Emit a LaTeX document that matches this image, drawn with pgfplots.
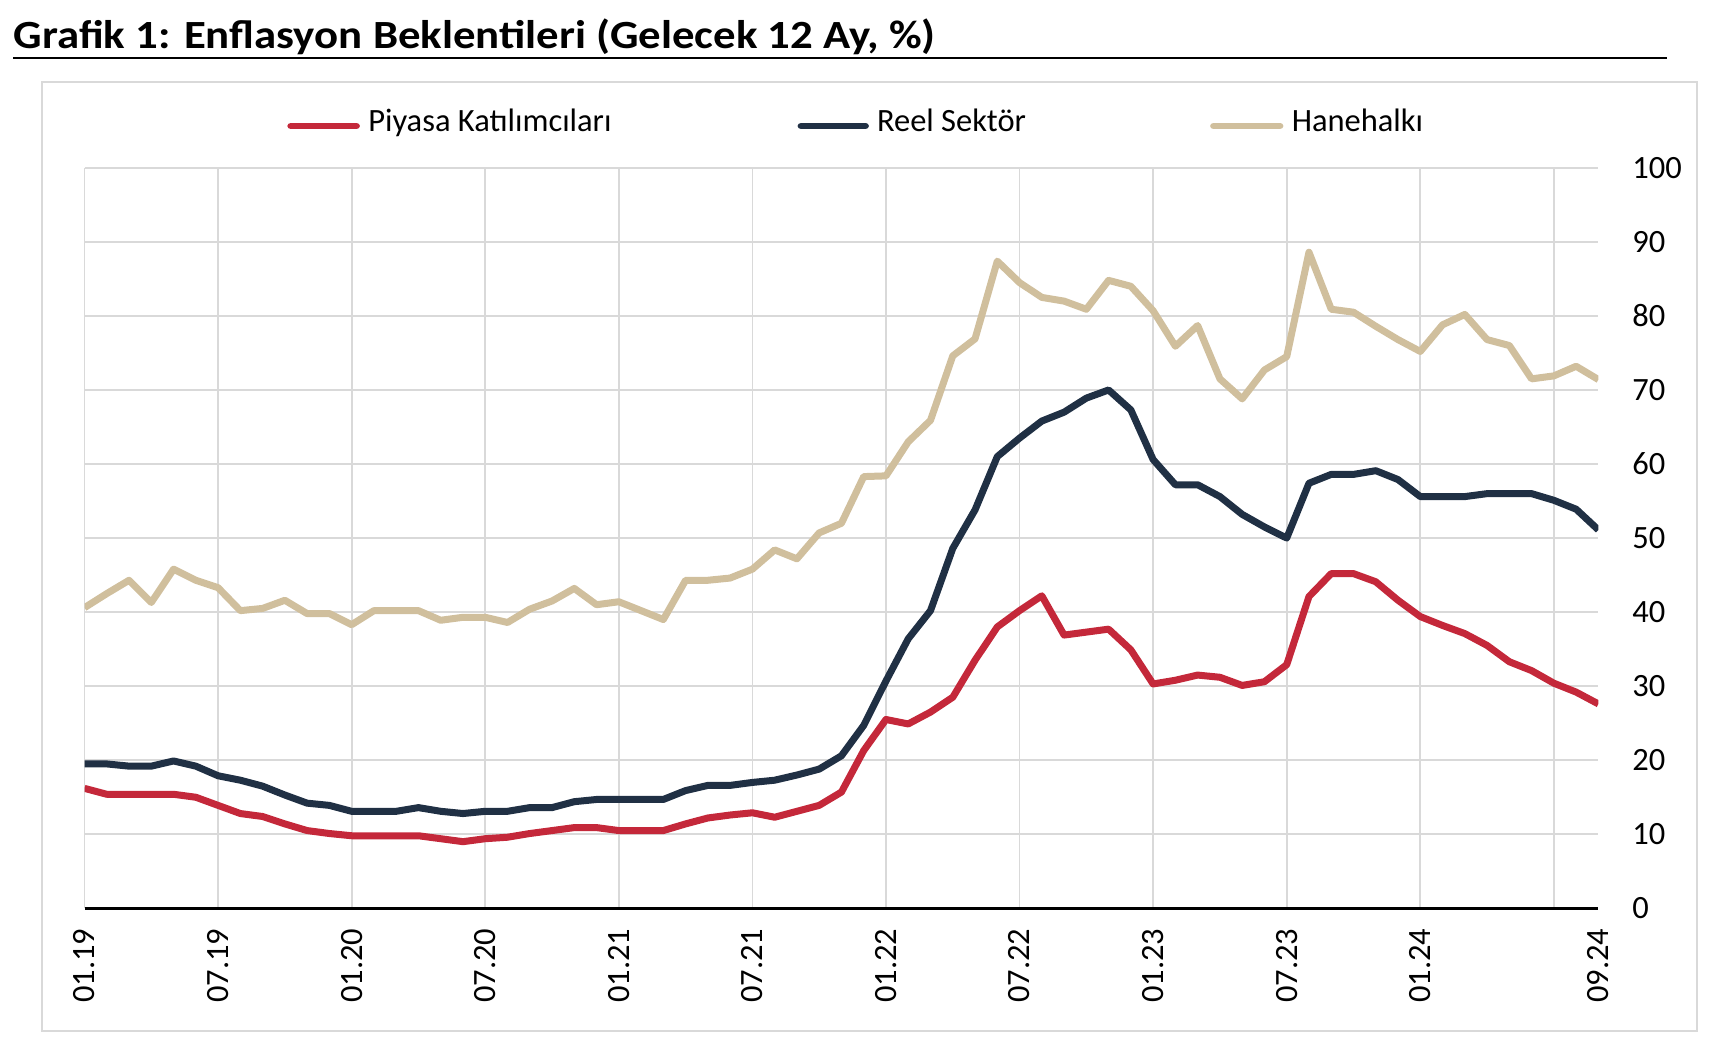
\documentclass[border=0pt]{standalone}
\usepackage{pgfplots}
\pgfplotsset{compat=1.18}
\usepackage{pgfplotstable}
\usepackage{fontspec}
\setmainfont{Carlito}
\newfontfamily\titlefont[FakeStretch=1.12]{Carlito}
\definecolor{cRed}{HTML}{C4283A}
\definecolor{cNavy}{HTML}{203044}
\definecolor{cBeige}{HTML}{D0BF9D}
\definecolor{cGrid}{HTML}{D9D9D9}

\pgfplotstableread{
x P R H
0 16.2 19.5 40.6
1 15.4 19.5 42.5
2 15.4 19.2 44.3
3 15.4 19.2 41.3
4 15.4 19.9 45.8
5 15.0 19.2 44.3
6 13.9 17.9 43.3
7 12.8 17.3 40.2
8 12.4 16.5 40.5
9 11.4 15.3 41.6
10 10.5 14.2 39.8
11 10.1 13.9 39.8
12 9.8 13.1 38.3
13 9.8 13.1 40.2
14 9.8 13.1 40.2
15 9.8 13.6 40.2
16 9.4 13.1 38.9
17 9.0 12.8 39.3
18 9.4 13.1 39.3
19 9.6 13.1 38.6
20 10.1 13.6 40.4
21 10.5 13.6 41.5
22 10.9 14.4 43.2
23 10.9 14.7 41.0
24 10.5 14.7 41.4
25 10.5 14.7 40.2
26 10.5 14.7 39.0
27 11.4 15.9 44.3
28 12.2 16.6 44.3
29 12.6 16.6 44.6
30 12.9 17.0 45.8
31 12.3 17.3 48.4
32 13.1 18.0 47.2
33 13.9 18.8 50.7
34 15.7 20.6 52.0
35 21.3 24.7 58.3
36 25.5 30.7 58.4
37 24.9 36.4 63.0
38 26.5 40.2 65.9
39 28.5 48.6 74.6
40 33.5 53.8 76.9
41 38.0 61.0 87.4
42 40.2 63.5 84.5
43 42.2 65.8 82.5
44 36.9 67.0 82.0
45 37.3 68.9 80.9
46 37.7 70.0 84.8
47 34.9 67.3 84.0
48 30.3 60.6 80.7
49 30.8 57.2 75.9
50 31.5 57.2 78.7
51 31.2 55.6 71.5
52 30.1 53.2 68.8
53 30.6 51.5 72.7
54 32.9 50.0 74.5
55 42.1 57.4 88.6
56 45.2 58.6 80.9
57 45.2 58.6 80.5
58 44.1 59.1 78.6
59 41.6 57.9 76.8
60 39.4 55.6 75.2
61 38.2 55.6 78.8
62 37.1 55.6 80.2
63 35.5 56.0 76.8
64 33.3 56.0 76.0
65 32.1 56.0 71.5
66 30.4 55.1 71.9
67 29.2 53.9 73.2
68 27.6 51.1 71.4
}\data

\begin{document}
\begin{tikzpicture}
\path (0,0) rectangle (688pt,-418.4pt);
\draw[cGrid, line width=0.8pt] (16.7pt,-32.9pt) rectangle (678.8pt,-412.4pt);
\node[anchor=base west, inner sep=0pt, font=\titlefont\fontsize{16}{19}\selectfont\bfseries] at (5.3pt,-19.3pt) {Grafik 1: Enflasyon Beklentileri (Gelecek 12 Ay, \%)};
\draw[black, line width=0.8pt] (5.3pt,-23.2pt) -- (666.8pt,-23.2pt);
% legend
\draw[cRed, line width=2.7pt, line cap=round] (116.3pt,-50.4pt) -- (142.6pt,-50.4pt);
\node[anchor=base west, inner sep=0pt, font=\fontsize{13}{15}\selectfont] at (147.1pt,-52.7pt) {Piyasa Katılımcıları};
\draw[cNavy, line width=2.7pt, line cap=round] (320.4pt,-50.4pt) -- (346.2pt,-50.4pt);
\node[anchor=base west, inner sep=0pt, font=\fontsize{13}{15}\selectfont] at (350.6pt,-52.7pt) {Reel Sektör};
\draw[cBeige, line width=2.7pt, line cap=round] (485.4pt,-50.4pt) -- (512pt,-50.4pt);
\node[anchor=base west, inner sep=0pt, font=\fontsize{13}{15}\selectfont] at (516.5pt,-52.7pt) {Hanehalkı};
\begin{axis}[
  at={(33.8pt,-363.32pt)}, anchor=south west,
  scale only axis, width=605.56pt, height=296.2pt,
  xmin=0, xmax=68, ymin=0, ymax=100,
  axis x line*=bottom, axis y line*=right,
  x axis line style={black, line width=1.3pt, -},
  y axis line style={draw=none},
  xmajorgrids, ymajorgrids,
  grid style={cGrid, line width=0.7pt},
  major tick length=0pt, tick style={draw=none},
  xtick={0,6,...,66},
  xticklabels={01.19,07.19,01.20,07.20,01.21,07.21,01.22,07.22,01.23,07.23,01.24,{}},
  extra x ticks={68}, extra x tick labels={09.24},
  extra x tick style={grid=none},
  ytick={0,10,...,100},
  xticklabel style={rotate=90, anchor=east, inner sep=0pt, font=\fontsize{13}{15}\selectfont},
  xticklabel shift=8pt,
  yticklabel style={anchor=west, inner sep=0pt, font=\fontsize{13}{15}\selectfont},
  yticklabel shift=13.4pt,
  /pgf/number format/assume math mode=true,
]
\addplot[cRed, line width=2.8pt, line join=round] table[x=x,y=P]{\data};
\addplot[cNavy, line width=2.8pt, line join=round] table[x=x,y=R]{\data};
\addplot[cBeige, line width=2.8pt, line join=round] table[x=x,y=H]{\data};
\end{axis}
\end{tikzpicture}
\end{document}
